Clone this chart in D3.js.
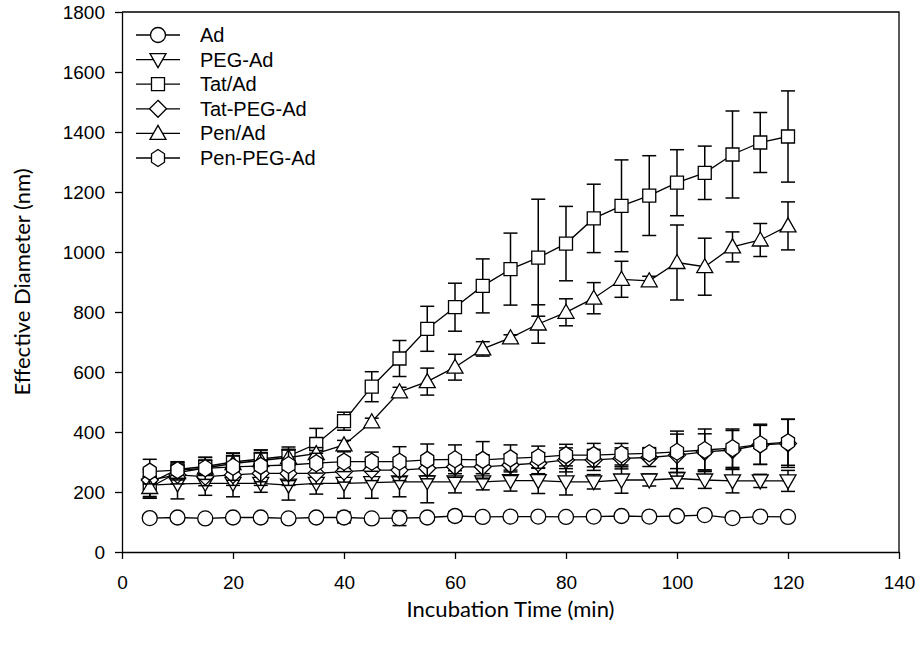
<!DOCTYPE html>
<html>
<head>
<meta charset="utf-8">
<script src="https://cdn.jsdelivr.net/npm/d3@7"></script>
<style>
  body { margin: 0; background: #fff; }
</style>
</head>
<body>
<div id="chart"></div>
<script>
// incubation time (min)
var times = [5, 10, 15, 20, 25, 30, 35, 40, 45, 50, 55, 60, 65, 70, 75, 80, 85, 90, 95, 100, 105, 110, 115, 120];

var seriesNames = ["Ad", "PEG-Ad", "Tat/Ad", "Tat-PEG-Ad", "Pen/Ad", "Pen-PEG-Ad"];

// effective diameter (nm) means and error bars
var adMean = [113, 115, 112, 115, 115, 112, 115, 115, 112, 113, 115, 120, 117, 118, 118, 117, 118, 120, 118, 120, 123, 113, 118, 117];
var adErr = [12, 10, 8, 8, 10, 8, 8, 18, 10, 25, 10, 15, 12, 10, 10, 8, 10, 10, 10, 10, 8, 10, 10, 10];

var pegMean = [223, 227, 229, 229, 229, 223, 229, 229, 231, 234, 234, 234, 234, 238, 238, 234, 234, 240, 240, 245, 240, 237, 237, 237];
var pegErr = [43, 50, 40, 45, 30, 50, 36, 50, 52, 50, 70, 37, 27, 35, 43, 44, 24, 44, 20, 33, 28, 40, 22, 35];

var tatMean = [230, 275, 285, 300, 310, 320, 360, 436, 551, 645, 744, 816, 887, 943, 981, 1028, 1112, 1154, 1188, 1231, 1264, 1325, 1365, 1385];
var tatErr = [45, 25, 30, 30, 30, 30, 52, 30, 50, 60, 75, 80, 90, 120, 195, 124, 114, 153, 133, 110, 89, 145, 100, 152];

var tatPegMean = [240, 257, 251, 257, 262, 262, 262, 268, 273, 273, 279, 284, 284, 290, 296, 307, 307, 312, 315, 323, 334, 340, 357, 362];
var tatPegErr = [35, 30, 30, 35, 40, 40, 35, 35, 35, 35, 35, 35, 40, 35, 35, 40, 35, 35, 30, 70, 60, 65, 65, 80];

var penMean = [215, 265, 280, 295, 305, 315, 328, 357, 434, 534, 568, 616, 677, 714, 760, 799, 846, 909, 904, 965, 951, 1017, 1040, 1087];
var penErr = [36, 25, 25, 25, 25, 25, 20, 15, 12, 15, 45, 43, 24, 10, 64, 45, 52, 60, 15, 125, 95, 50, 55, 80];

var penPegMean = [268, 273, 279, 284, 287, 290, 296, 301, 301, 301, 307, 309, 307, 312, 316, 323, 323, 326, 329, 334, 340, 346, 359, 366];
var penPegErr = [41, 28, 37, 45, 53, 52, 33, 33, 32, 50, 53, 48, 61, 45, 37, 36, 39, 36, 19, 69, 70, 64, 67, 77];

var xTicks = [0, 20, 40, 60, 80, 100, 120, 140];
var yTicks = [0, 200, 400, 600, 800, 1000, 1200, 1400, 1600, 1800];

var svgWidth = 920;
var svgHeight = 646;
var margin = { top: 12, right: 21, bottom: 94, left: 122 };
var width = svgWidth - margin.left - margin.right;
var height = svgHeight - margin.top - margin.bottom;

var arial = "'Liberation Sans', Arial, sans-serif";
var calibri = "Lato, 'Open Sans', sans-serif";

var svg = d3.select("#chart")
  .append("svg")
  .attr("width", svgWidth)
  .attr("height", svgHeight);

var chartGroup = svg.append("g")
  .attr("transform", `translate(${margin.left}, ${margin.top})`);

var x = d3.scaleLinear().domain([0, 140]).range([0, width]);
var y = d3.scaleLinear().domain([0, 1800]).range([height, 0]);

// frame (top and right sides)
chartGroup.append("path")
  .attr("d", `M0,0H${width}V${height}`)
  .attr("fill", "none")
  .attr("stroke", "#000")
  .attr("stroke-width", 1.3);

var bottomAxis = d3.axisBottom(x).tickValues(xTicks).tickFormat(d3.format("d"))
  .tickSize(7).tickPadding(17).tickSizeOuter(0);
var leftAxis = d3.axisLeft(y).tickValues(yTicks).tickFormat(d3.format("d"))
  .tickSize(7).tickPadding(10).tickSizeOuter(0);

function styleAxis(g) {
  g.attr("font-family", arial).attr("font-size", 19);
  g.selectAll("line, path").attr("stroke", "#000").attr("stroke-width", 1.3);
  g.selectAll("text").attr("fill", "#000");
}

chartGroup.append("g")
  .attr("transform", `translate(0, ${height})`)
  .call(bottomAxis)
  .call(styleAxis);

chartGroup.append("g")
  .call(leftAxis)
  .call(styleAxis);

// marker shapes
function markerPath(type) {
  var r = 7.5;
  switch (type) {
    case "circle":
      return d3.symbol(d3.symbolCircle, Math.PI * r * r)();
    case "down":
      return "M-8,-6L8,-6L0,8Z";
    case "square":
      return "M-6.5,-6.5H6.5V6.5H-6.5Z";
    case "diamond":
      return "M0,-8.5L8.5,0L0,8.5L-8.5,0Z";
    case "up":
      return "M0,-8L8,6L-8,6Z";
    case "hex":
      var pts = d3.range(6).map(function (i) {
        var a = Math.PI / 2 + i * Math.PI / 3;
        return [7.5 * Math.cos(a), 8.5 * Math.sin(a)];
      });
      return "M" + pts.map(p => p.join(",")).join("L") + "Z";
  }
}

var series = [
  { name: seriesNames[0], shape: "circle", mean: adMean, err: adErr },
  { name: seriesNames[1], shape: "down", mean: pegMean, err: pegErr },
  { name: seriesNames[2], shape: "square", mean: tatMean, err: tatErr },
  { name: seriesNames[3], shape: "diamond", mean: tatPegMean, err: tatPegErr },
  { name: seriesNames[4], shape: "up", mean: penMean, err: penErr },
  { name: seriesNames[5], shape: "hex", mean: penPegMean, err: penPegErr }
];

var capHalf = 7;
var line = d3.line().x(d => x(d.t)).y(d => y(d.v));

series.forEach(function (s) {
  var pts = times.map(function (t, i) { return { t: t, v: s.mean[i], e: s.err[i] }; });
  var g = chartGroup.append("g");

  // error bars
  var eb = g.selectAll(".eb").data(pts).enter().append("g")
    .attr("stroke", "#000").attr("stroke-width", 1.5);
  eb.append("line")
    .attr("x1", d => x(d.t)).attr("x2", d => x(d.t))
    .attr("y1", d => y(d.v - d.e)).attr("y2", d => y(d.v + d.e));
  eb.append("line")
    .attr("x1", d => x(d.t) - capHalf).attr("x2", d => x(d.t) + capHalf)
    .attr("y1", d => y(d.v + d.e)).attr("y2", d => y(d.v + d.e));
  eb.append("line")
    .attr("x1", d => x(d.t) - capHalf).attr("x2", d => x(d.t) + capHalf)
    .attr("y1", d => y(d.v - d.e)).attr("y2", d => y(d.v - d.e));

  // connecting line
  g.append("path")
    .attr("d", line(pts))
    .attr("fill", "none")
    .attr("stroke", "#000")
    .attr("stroke-width", 1.3);

  // markers
  g.selectAll(".mk").data(pts).enter().append("path")
    .attr("d", markerPath(s.shape))
    .attr("transform", d => `translate(${x(d.t)}, ${y(d.v)})`)
    .attr("fill", "#fff")
    .attr("stroke", "#000")
    .attr("stroke-width", 1.3);
});

// legend
var legend = chartGroup.append("g").attr("transform", "translate(13, 23)");
series.forEach(function (s, i) {
  var row = legend.append("g").attr("transform", `translate(0, ${i * 24.6})`);
  row.append("line")
    .attr("x1", 1).attr("x2", 45).attr("y1", 0).attr("y2", 0)
    .attr("stroke", "#000").attr("stroke-width", 1.3);
  row.append("path")
    .attr("d", markerPath(s.shape))
    .attr("transform", "translate(23, 0)")
    .attr("fill", "#fff").attr("stroke", "#000").attr("stroke-width", 1.3);
  row.append("text")
    .attr("font-family", arial)
    .attr("font-size", 20)
    .attr("x", 65).attr("y", 0).attr("dy", "0.35em")
    .text(s.name);
});

// axis titles
chartGroup.append("text")
  .attr("font-family", calibri)
  .attr("font-size", 22)
  .attr("text-anchor", "middle")
  .attr("transform", `translate(${-margin.left + 30}, ${height / 2}) rotate(-90)`)
  .text("Effective Diameter (nm)");

chartGroup.append("text")
  .attr("font-family", calibri)
  .attr("font-size", 22)
  .attr("text-anchor", "middle")
  .attr("x", width / 2)
  .attr("y", height + 65)
  .text("Incubation Time (min)");
</script>
</body>
</html>
